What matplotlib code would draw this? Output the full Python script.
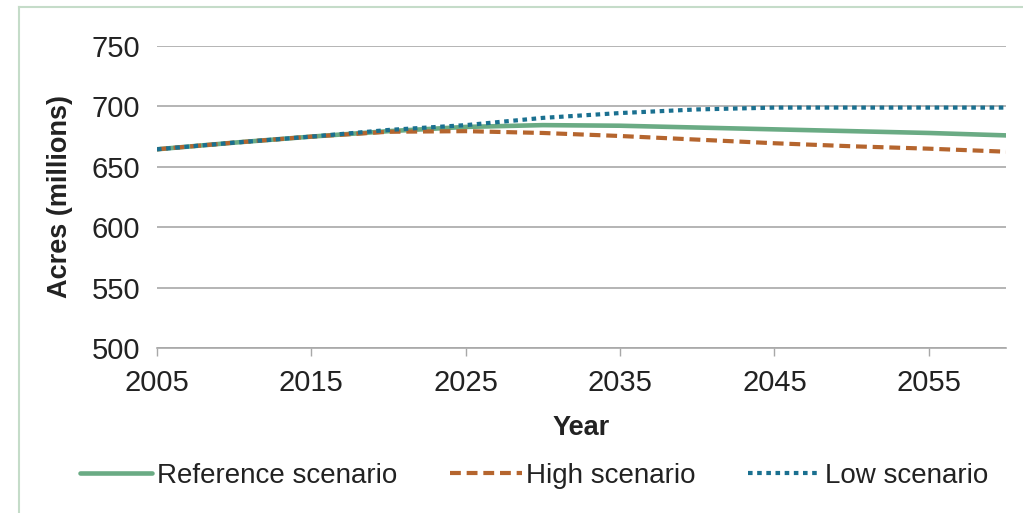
import matplotlib
matplotlib.use("Agg")
import matplotlib.pyplot as plt
from matplotlib.lines import Line2D

years = [2005, 2010, 2015, 2020, 2025, 2030, 2035, 2040, 2045, 2050, 2055, 2060]
reference = [664.5, 670, 675, 679.5, 683.0, 684.5, 684.0, 682.5, 681.0, 679.5, 678.0, 676.0]
high = [664.5, 670, 675, 679.0, 679.5, 678.0, 675.5, 672.5, 669.5, 667.0, 665.0, 662.5]
low = [664.5, 670, 675, 680.5, 684.5, 690.5, 694.5, 697.5, 699.0, 699.0, 699.0, 699.0]

xticks = [2005, 2015, 2025, 2035, 2045, 2055]
yticks = [500, 550, 600, 650, 700, 750]
labels = ["Reference scenario", "High scenario", "Low scenario"]
colors = ["#6aab84", "#b5652e", "#1a7090"]

plt.rcParams['font.family'] = ['Liberation Sans', 'DejaVu Sans']

fig = plt.figure(figsize=(10.23, 5.13), dpi=100)
ax = fig.add_axes([157/1023, 1-348/513, (1006-157)/1023, (348-46)/513])

ax.set_xlim(2005, 2060)
ax.set_ylim(500, 750)
ax.set_yticks(yticks)
ax.set_xticks(xticks)
ax.yaxis.grid(True, color="#a8a8a8", lw=1.2)
ax.set_axisbelow(True)
for s in ["left", "right", "top"]:
    ax.spines[s].set_visible(False)
ax.spines["bottom"].set_color("#a8a8a8")
ax.spines["bottom"].set_linewidth(1.2)
ax.tick_params(axis="x", length=6, width=1, color="#a8a8a8", labelsize=21, pad=9, labelcolor="#222222")
ax.tick_params(axis="y", length=0, labelsize=21, pad=12, labelcolor="#222222")

l1, = ax.plot(years, reference, color=colors[0], lw=3.3, solid_capstyle="round", zorder=3)
l2, = ax.plot(years, high, color=colors[1], lw=3.0, dashes=(2.6, 1.4), zorder=4)
l3, = ax.plot(years, low, color=colors[2], lw=3.0, dashes=(1.1, 1.1), zorder=5)

ax.set_xlabel("Year", fontsize=19.5, fontweight="bold", labelpad=13, color="#222222")
ax.set_ylabel("Acres (millions)", fontsize=19.5, fontweight="bold", color="#222222")
ax.yaxis.set_label_coords(-(157-73)/849, 0.5)

fig.legend([l1, l2, l3], labels, loc="center", bbox_to_anchor=(0.522, 1-476/513),
           ncol=3, frameon=False, fontsize=20, handlelength=2.6, handletextpad=0.15,
           columnspacing=1.9, labelcolor="#222222")

border = "#c5dcc9"
fig.add_artist(Line2D([19/1023, 19/1023], [0, 1-7/513], color=border, lw=1.5))
fig.add_artist(Line2D([19/1023, 1], [1-7/513, 1-7/513], color=border, lw=1.5))

fig.savefig("out.png", dpi=100)
